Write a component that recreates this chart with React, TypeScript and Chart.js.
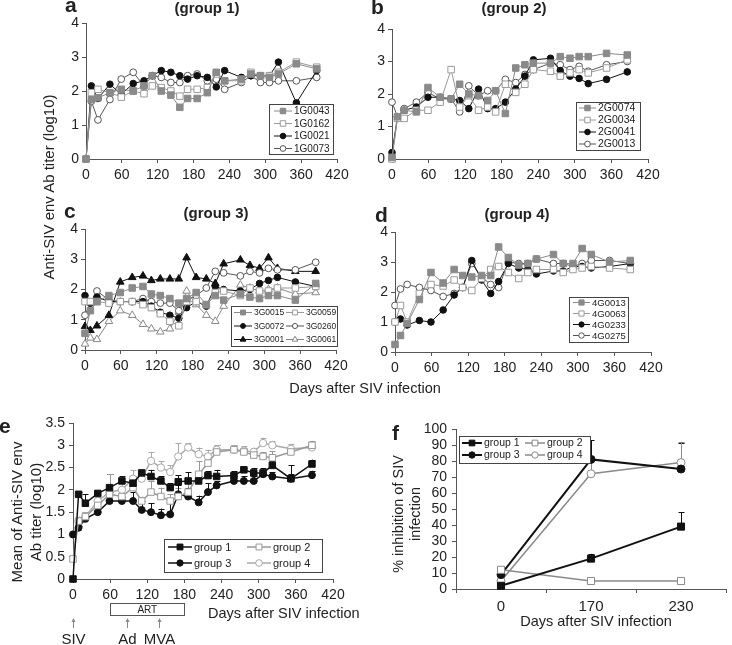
import React, { useEffect, useRef } from 'react';
import { Chart, registerables } from 'chart.js';
import { drawPoint } from 'chart.js/helpers';

Chart.register(...registerables);

const W = 732;
const H = 645;
const FONT = "'Liberation Sans', Arial, Helvetica, sans-serif";
Chart.defaults.font.family = FONT;
Chart.defaults.color = '#222';

// ---------------- data ----------------
const DAYS = [0, 9, 20, 40, 59, 79, 97, 111, 126, 142, 157, 170, 186, 203, 218, 232, 260, 276, 292, 307, 322, 352, 386];
const DAY_TICKS = [0, 60, 120, 180, 240, 300, 360, 420];
const TITER_TICKS = [0, 1, 2, 3, 4];
const MEAN_TICKS = [0, 0.5, 1, 1.5, 2, 2.5, 3, 3.5];
const PCT_TICKS = [0, 10, 20, 30, 40, 50, 60, 70, 80, 90, 100];

// group 1
const A_1G0043 = [0, 1.75, 1.8, 1.95, 2.05, 2.0, 2.15, 2.45, 2.0, 1.88, 1.52, 1.78, 1.78, 1.95, 2.55, 2.3, 2.35, 2.5, 2.45, 2.4, 2.5, 2.8, 2.65];
const A_1G0162 = [0, 1.95, 2.05, 1.95, 1.82, 2.0, 1.92, 2.15, 2.1, 2.0, 1.85, 2.05, 2.05, 2.1, 2.5, 2.3, 2.3, 2.55, 2.45, 2.45, 2.55, 2.85, 2.7];
const A_1G0021 = [0, 2.15, 1.78, 2.2, 1.9, 2.22, 2.3, 2.45, 2.6, 2.55, 2.45, 2.35, 2.45, 2.4, 2.12, 2.6, 2.4, 2.45, 2.45, 2.45, 2.85, 1.65, 2.6];
const A_1G0073 = [0, 1.7, 1.15, 1.75, 2.35, 2.55, 2.15, 2.45, 2.4, 2.25, 2.25, 2.45, 2.5, 2.3, 2.35, 2.05, 2.25, 2.45, 2.25, 2.25, 2.3, 2.3, 2.4];

// group 2
const B_2G0074 = [0.05, 1.3, 1.5, 1.45, 2.2, 1.9, 1.85, 2.3, 2.0, 1.95, 1.8, 2.1, 1.4, 2.8, 2.9, 2.95, 2.95, 3.15, 3.1, 3.15, 3.15, 3.25, 3.2];
const B_2G0034 = [0, 1.25, 1.25, 1.5, 1.5, 1.75, 2.75, 1.6, 1.95, 1.5, 1.6, 1.45, 2.3, 2.05, 2.3, 2.75, 2.7, 2.55, 2.65, 2.75, 2.65, 2.8, 3.05];
const B_2G0041 = [0.2, 1.3, 1.5, 1.6, 1.9, 1.9, 1.85, 1.8, 1.55, 2.15, 1.55, 1.55, 1.75, 2.15, 2.55, 3.05, 3.1, 2.72, 2.55, 2.48, 2.32, 2.45, 2.68];
const B_2G0013 = [1.75, 1.3, 1.55, 1.75, 2.05, 1.85, 1.85, 1.45, 2.25, 1.95, 2.1, 2.1, 2.45, 2.35, 2.6, 2.75, 2.95, 2.9, 2.75, 2.85, 2.7, 2.9, 3.0];

// group 3
const C_3G0015 = [0.55, 1.3, 1.6, 1.8, 1.9, 2.05, 2.1, 1.85, 1.8, 1.7, 1.55, 1.7, 1.9, 1.5, 1.8, 1.65, 1.85, 1.75, 1.7, 1.8, 1.8, 1.65, 2.2];
const C_3G0059 = [1.6, 1.6, 1.6, 1.55, 1.6, 1.6, 1.5, 1.4, 1.2, 0.95, 0.8, 1.6, 1.6, 1.5, 1.9, 1.95, 1.8, 2.05, 1.95, 1.95, 2.05, 2.05, 2.1];
const C_3G0072 = [1.8, 1.55, 1.75, 1.6, 1.6, 1.6, 1.6, 1.45, 1.25, 1.15, 1.05, 1.4, 1.6, 1.45, 2.1, 2.0, 1.95, 2.0, 2.2, 2.3, 2.4, 2.25, 2.1];
const C_3G0260 = [1.15, 1.55, 1.95, 1.65, 1.6, 1.6, 1.7, 1.6, 1.55, 1.55, 1.3, 1.65, 1.8, 2.05, 2.6, 2.55, 2.45, 2.6, 2.55, 2.7, 2.65, 2.65, 2.9];
const C_3G0001 = [0.78, 0.65, 0.8, 1.15, 2.25, 2.4, 2.45, 2.3, 2.35, 2.35, 2.35, 3.05, 2.4, 2.35, 2.2, 2.85, 2.98, 2.8, 2.7, 3.05, 2.7, 2.6, 2.6];
const C_3G0061 = [0.2, 0.4, 0.35, 0.95, 1.3, 1.15, 0.85, 0.7, 0.6, 0.7, 1.25, 1.95, 1.5, 1.15, 0.95, 1.45, 2.15, 2.05, 1.95, 2.0, 2.05, 1.85, 1.9];

// group 4
const D_4G0013 = [0.25, 0.55, 0.95, 1.75, 2.65, 2.3, 2.75, 2.55, 2.5, 2.55, 2.55, 3.5, 3.15, 2.9, 2.95, 3.1, 3.25, 2.95, 2.95, 3.45, 3.25, 3.0, 3.05];
const D_4G0063 = [1.0, 1.55, 1.0, 1.95, 2.25, 2.2, 2.4, 2.15, 2.05, 2.45, 2.75, 2.85, 2.65, 2.45, 2.65, 2.75, 2.75, 2.65, 2.75, 2.8, 2.85, 2.8, 2.75];
const D_4G0233 = [1.0, 1.1, 0.9, 1.05, 1.0, 1.4, 1.9, 2.15, 3.05, 2.4, 1.95, 2.35, 2.95, 2.8, 2.75, 2.6, 2.7, 2.7, 2.85, 2.85, 2.8, 2.85, 2.95];
const D_4G0275 = [1.55, 2.1, 2.25, 2.15, 2.05, 1.85, 1.95, 2.15, 2.95, 2.5, 2.25, 2.15, 3.0, 2.95, 2.95, 3.1, 2.95, 2.95, 2.85, 2.95, 3.05, 3.05, 2.95];

// means (panel e) and upper error
const E_GROUP1 = [0, 1.9, 1.7, 1.92, 2.05, 2.2, 2.15, 2.38, 2.3, 2.2, 2.05, 2.18, 2.2, 2.2, 2.32, 2.3, 2.32, 2.45, 2.38, 2.38, 2.55, 2.25, 2.58];
const E_GROUP1_ERR = [0, 0.05, 0.2, 0.05, 0.3, 0.1, 0.15, 0.05, 0.15, 0.1, 0.1, 0.15, 0.2, 0.1, 0.1, 0.15, 0.1, 0.05, 0.1, 0.1, 0.1, 0.3, 0.1];
const E_GROUP2 = [0.45, 1.3, 1.4, 1.65, 1.9, 1.85, 2.05, 1.75, 1.95, 1.85, 1.75, 1.85, 1.95, 2.35, 2.6, 2.85, 2.9, 2.85, 2.78, 2.75, 2.72, 2.85, 3.0];
const E_GROUP2_ERR = [0, 0.1, 0.1, 0.1, 0.45, 0.2, 0.15, 0.1, 0.25, 0.2, 0.15, 0.2, 0.25, 0.3, 0.2, 0.15, 0.1, 0.1, 0.1, 0.1, 0.15, 0.1, 0.1];
const E_GROUP3 = [1.0, 1.15, 1.35, 1.5, 1.75, 1.75, 1.75, 1.55, 1.5, 1.43, 1.45, 1.9, 1.85, 1.72, 1.95, 2.1, 2.2, 2.2, 2.2, 2.35, 2.3, 2.25, 2.33];
const E_GROUP3_ERR = [0, 0.05, 0.1, 0.1, 0.2, 0.1, 0.2, 0.2, 0.2, 0.15, 0.35, 0.2, 0.2, 0.15, 0.2, 0.1, 0.1, 0.1, 0.1, 0.1, 0.1, 0.1, 0.1];
const E_GROUP4 = [1.0, 1.3, 1.4, 1.75, 1.95, 2.0, 2.25, 2.25, 2.65, 2.5, 2.4, 2.75, 2.95, 2.8, 2.75, 2.9, 2.9, 2.88, 2.85, 3.05, 3.0, 2.92, 2.95];
const E_GROUP4_ERR = [0, 0.05, 0.1, 0.1, 0.15, 0.15, 0.2, 0.15, 0.2, 0.15, 0.15, 0.3, 0.1, 0.15, 0.15, 0.1, 0.1, 0.1, 0.1, 0.12, 0.1, 0.1, 0.05];
const ART_RANGE = [60, 180];
const EVENT_DAYS = [0, 88, 139];
const EVENT_LABELS = ['SIV', 'Ad', 'MVA'];

// panel f
const F_DAYS = ['0', '170', '230'];
const F_GROUP1 = [2, 19, 39];
const F_GROUP1_ERR = [0, 3, 9];
const F_GROUP2 = [12, 5, 5];
const F_GROUP2_ERR = [0, 0, 0];
const F_GROUP3 = [9, 81, 75];
const F_GROUP3_ERR = [0, 12, 16];
const F_GROUP4 = [5, 72, 79];
const F_GROUP4_ERR = [0, 11, 13];

// ---------------- styles ----------------
type Sty = { ps: string; r: number; bg: string; bc: string; line: string };
const GRAY_SQ: Sty = { ps: 'rect', r: 4.6, bg: '#8a8a8a', bc: '#8a8a8a', line: '#8a8a8a' };
const OPEN_SQ: Sty = { ps: 'rect', r: 4.6, bg: '#ffffff', bc: '#9a9a9a', line: '#9a9a9a' };
const BLACK_CI: Sty = { ps: 'circle', r: 3.3, bg: '#111111', bc: '#111111', line: '#111111' };
const OPEN_CI: Sty = { ps: 'circle', r: 3.4, bg: '#ffffff', bc: '#555555', line: '#555555' };
const BLACK_TR: Sty = { ps: 'triangle', r: 4.4, bg: '#111111', bc: '#111111', line: '#111111' };
const OPEN_TR: Sty = { ps: 'triangle', r: 4.4, bg: '#ffffff', bc: '#888888', line: '#888888' };

const YW = 40;
const XH = 30;

function ds(label: string, xs: any[] | null, ys: number[], st: Sty, lw = 1, extra: any = {}) {
  return {
    label,
    data: xs ? xs.map((x, i) => ({ x, y: ys[i] })) : ys,
    borderColor: st.line,
    backgroundColor: st.bg,
    borderWidth: lw,
    pointStyle: st.ps,
    pointRadius: st.r,
    pointBackgroundColor: st.bg,
    pointBorderColor: st.bc,
    pointBorderWidth: 1,
    tension: 0,
    clip: false,
    ...extra,
  };
}

const boxLegend = {
  id: 'boxLegend',
  afterDraw(chart: any, _a: any, o: any) {
    if (!o || !o.box) return;
    const ctx = chart.ctx;
    const [x1, y1, x2, y2] = o.box;
    ctx.save();
    ctx.fillStyle = '#fff';
    ctx.fillRect(x1, y1, x2 - x1, y2 - y1);
    ctx.strokeStyle = '#444';
    ctx.lineWidth = 1;
    ctx.strokeRect(x1 + 0.5, y1 + 0.5, x2 - x1, y2 - y1);
    chart.data.datasets.forEach((d: any, i: number) => {
      const r = Math.floor(i / o.cols);
      const c = i % o.cols;
      const x0 = x1 + o.padL + c * o.colW;
      const cy = y1 + o.padT + r * o.rowH;
      ctx.strokeStyle = d.borderColor;
      ctx.lineWidth = d.borderWidth;
      ctx.beginPath();
      ctx.moveTo(x0, cy);
      ctx.lineTo(x0 + o.lineLen, cy);
      ctx.stroke();
      ctx.fillStyle = d.pointBackgroundColor;
      ctx.strokeStyle = d.pointBorderColor;
      ctx.lineWidth = 1;
      drawPoint(ctx, { pointStyle: d.pointStyle, radius: d.pointRadius * o.ms, borderWidth: 1, rotation: 0 } as any, x0 + o.lineLen / 2, cy);
      ctx.fillStyle = '#222';
      ctx.font = `${o.font}px ${FONT}`;
      ctx.textBaseline = 'middle';
      ctx.textAlign = 'left';
      ctx.fillText(d.label, x0 + o.lineLen + 2, cy + 0.5);
    });
    ctx.restore();
  },
};

const errorBars = {
  id: 'errorBars',
  beforeDatasetsDraw(chart: any) {
    const ctx = chart.ctx;
    const ys = chart.scales.y;
    chart.data.datasets.forEach((d: any, i: number) => {
      if (!d.errUp) return;
      const meta = chart.getDatasetMeta(i);
      ctx.save();
      ctx.strokeStyle = d.borderColor;
      ctx.lineWidth = 1;
      meta.data.forEach((pt: any, j: number) => {
        const e = d.errUp[j];
        if (!e) return;
        const raw = d.data[j];
        const v = typeof raw === 'number' ? raw : raw.y;
        const yTop = ys.getPixelForValue(v + e);
        const x = Math.round(pt.x) + 0.5;
        ctx.beginPath();
        ctx.moveTo(x, pt.y);
        ctx.lineTo(x, yTop);
        ctx.moveTo(x - 3, Math.round(yTop) + 0.5);
        ctx.lineTo(x + 3, Math.round(yTop) + 0.5);
        ctx.stroke();
      });
      ctx.restore();
    });
  },
};

const eventsPlugin = {
  id: 'events',
  afterDraw(chart: any) {
    const xs = chart.scales.x;
    const ctx = chart.ctx;
    const a = xs.getPixelForValue(ART_RANGE[0]);
    const b = xs.getPixelForValue(ART_RANGE[1]);
    ctx.save();
    ctx.strokeStyle = '#555';
    ctx.lineWidth = 1;
    ctx.strokeRect(Math.round(a) + 0.5, 603.5, Math.round(b - a), 12);
    ctx.fillStyle = '#222';
    ctx.font = `10px ${FONT}`;
    ctx.textAlign = 'center';
    ctx.textBaseline = 'middle';
    ctx.fillText('ART', (a + b) / 2, 610);
    EVENT_DAYS.forEach((d, i) => {
      const x = Math.round(xs.getPixelForValue(d)) + 0.5;
      ctx.strokeStyle = '#888';
      ctx.beginPath();
      ctx.moveTo(x, 628);
      ctx.lineTo(x, 621);
      ctx.stroke();
      ctx.fillStyle = '#888';
      ctx.beginPath();
      ctx.moveTo(x, 618);
      ctx.lineTo(x - 2, 622);
      ctx.lineTo(x + 2, 622);
      ctx.closePath();
      ctx.fill();
      ctx.fillStyle = '#222';
      ctx.font = `15px ${FONT}`;
      ctx.textBaseline = 'alphabetic';
      ctx.fillText(EVENT_LABELS[i], x, 644);
    });
    ctx.restore();
  },
};

function axisBase(size: number, pad = 3) {
  return {
    grid: { display: true, drawOnChartArea: false, drawTicks: true, tickLength: 4, color: '#555', lineWidth: 1 },
    border: { display: true, color: '#555', width: 1 },
    ticks: { color: '#222', font: { family: FONT, size }, padding: pad, callback: (v: any) => String(v), autoSkip: false, maxRotation: 0 },
  };
}

function linScale(ticksArr: number[], min: number, max: number, axis: 'x' | 'y', size: number, pad = 3) {
  const base: any = axisBase(size, pad);
  return {
    type: 'linear',
    min,
    max,
    ...base,
    afterBuildTicks: (s: any) => {
      s.ticks = ticksArr.map((v) => ({ value: v }));
    },
    afterFit: (s: any) => {
      if (axis === 'x') s.height = XH;
      else s.width = YW;
      s.paddingLeft = 0;
      s.paddingRight = 0;
      s.paddingTop = 0;
      s.paddingBottom = 0;
    },
  };
}

function config(plot: number[], datasets: any[], scales: any, legend: any, plugins: any[] = []) {
  const [l, t, r, b] = plot;
  return {
    type: 'line',
    data: { labels: undefined as any, datasets },
    options: {
      responsive: false,
      maintainAspectRatio: false,
      devicePixelRatio: 1,
      animation: false,
      events: [],
      layout: { padding: { left: l - YW, top: t, right: W - r, bottom: H - b - XH } },
      scales,
      plugins: {
        legend: { display: false },
        tooltip: { enabled: false },
        boxLegend: legend,
      },
    },
    plugins: [errorBars, boxLegend, ...plugins],
  };
}

function titerScales() {
  return {
    x: linScale(DAY_TICKS, 0, 420, 'x', 14, 4),
    y: linScale(TITER_TICKS, 0, 4, 'y', 14, 3),
  };
}

const BUILDERS: (() => any)[] = [
  () =>
    config(
      [86, 23, 337, 159],
      [
        ds('1G0043', DAYS, A_1G0043, GRAY_SQ),
        ds('1G0162', DAYS, A_1G0162, OPEN_SQ),
        ds('1G0021', DAYS, A_1G0021, BLACK_CI),
        ds('1G0073', DAYS, A_1G0073, OPEN_CI),
      ],
      titerScales(),
      { box: [269, 104, 333, 154], cols: 1, colW: 0, rowH: 12.5, padL: 5, padT: 7, lineLen: 18, font: 10, ms: 0.85 }
    ),
  () =>
    config(
      [392, 29, 648, 159],
      [
        ds('2G0074', DAYS, B_2G0074, GRAY_SQ),
        ds('2G0034', DAYS, B_2G0034, OPEN_SQ),
        ds('2G0041', DAYS, B_2G0041, BLACK_CI),
        ds('2G0013', DAYS, B_2G0013, OPEN_CI),
      ],
      titerScales(),
      { box: [576, 102, 640, 150], cols: 1, colW: 0, rowH: 12, padL: 3, padT: 6, lineLen: 17, font: 10.5, ms: 0.85 }
    ),
  () =>
    config(
      [85, 229, 336, 350],
      [
        ds('3G0015', DAYS, C_3G0015, GRAY_SQ),
        ds('3G0059', DAYS, C_3G0059, OPEN_SQ),
        ds('3G0072', DAYS, C_3G0072, BLACK_CI),
        ds('3G0260', DAYS, C_3G0260, OPEN_CI),
        ds('3G0001', DAYS, C_3G0001, BLACK_TR),
        ds('3G0061', DAYS, C_3G0061, OPEN_TR),
      ],
      titerScales(),
      { box: [231, 306, 337, 346], cols: 2, colW: 52, rowH: 13.5, padL: 3, padT: 6.5, lineLen: 18, font: 8.5, ms: 0.75 }
    ),
  () =>
    config(
      [395, 232, 651, 352],
      [
        ds('4G0013', DAYS, D_4G0013, GRAY_SQ),
        ds('4G0063', DAYS, D_4G0063, OPEN_SQ),
        ds('4G0233', DAYS, D_4G0233, BLACK_CI),
        ds('4G0275', DAYS, D_4G0275, OPEN_CI),
      ],
      titerScales(),
      { box: [569, 297, 628, 342], cols: 1, colW: 0, rowH: 11, padL: 4, padT: 5.5, lineLen: 17, font: 9.5, ms: 0.8 }
    ),
  () =>
    config(
      [73, 423, 333, 579],
      [
        ds('group 1', DAYS, E_GROUP1, { ps: 'rect', r: 4.6, bg: '#111', bc: '#111', line: '#111' }, 1.5, { errUp: E_GROUP1_ERR }),
        ds('group 2', DAYS, E_GROUP2, { ps: 'rect', r: 4.6, bg: '#fff', bc: '#999', line: '#999' }, 1.5, { errUp: E_GROUP2_ERR }),
        ds('group 3', DAYS, E_GROUP3, { ps: 'circle', r: 3.5, bg: '#111', bc: '#111', line: '#111' }, 1.5, { errUp: E_GROUP3_ERR }),
        ds('group 4', DAYS, E_GROUP4, { ps: 'circle', r: 3.7, bg: '#fff', bc: '#aaa', line: '#aaa' }, 1.5, { errUp: E_GROUP4_ERR }),
      ],
      {
        x: linScale(DAY_TICKS, 0, 420, 'x', 14, 4),
        y: linScale(MEAN_TICKS, 0, 3.5, 'y', 14, 4),
      },
      { box: [164, 539, 322, 572], cols: 2, colW: 79, rowH: 16, padL: 4, padT: 8, lineLen: 24, font: 11, ms: 0.9 },
      [eventsPlugin]
    ),
  () => {
    const base: any = axisBase(15, 5);
    const c: any = config(
      [456, 429, 731, 589],
      [
        ds('group 1', null, F_GROUP1, { ps: 'rect', r: 5, bg: '#111', bc: '#111', line: '#111' }, 2, { errUp: F_GROUP1_ERR }),
        ds('group 2', null, F_GROUP2, { ps: 'rect', r: 5, bg: '#fff', bc: '#8a8a8a', line: '#8a8a8a' }, 1.5, { errUp: F_GROUP2_ERR }),
        ds('group 3', null, F_GROUP3, { ps: 'circle', r: 4, bg: '#111', bc: '#111', line: '#111' }, 2, { errUp: F_GROUP3_ERR }),
        ds('group 4', null, F_GROUP4, { ps: 'circle', r: 4, bg: '#fff', bc: '#8a8a8a', line: '#8a8a8a' }, 1.5, { errUp: F_GROUP4_ERR }),
      ],
      {
        x: {
          type: 'category',
          offset: true,
          border: base.border,
          grid: { display: true, drawOnChartArea: false, drawTicks: true, tickLength: 4, color: '#555', lineWidth: 1, offset: true },
          ticks: {
            color: '#222',
            font: { family: FONT, size: 15 },
            padding: 5,
            autoSkip: false,
            maxRotation: 0,
            callback: (_v: any, i: number) => F_DAYS[i],
          },
          afterFit: (s: any) => {
            s.height = XH;
            s.paddingLeft = 0;
            s.paddingRight = 0;
          },
        },
        y: linScale(PCT_TICKS, 0, 100, 'y', 14, 5),
      },
      { box: [459, 436, 590, 463], cols: 2, colW: 63, rowH: 12, padL: 3, padT: 7, lineLen: 20, font: 10.5, ms: 0.8 }
    );
    c.data.labels = F_DAYS;
    return c;
  },
];

function ChartCanvas({ build }: { build: () => any }) {
  const ref = useRef<HTMLCanvasElement>(null);
  useEffect(() => {
    const chart = new Chart(ref.current as HTMLCanvasElement, build());
    return () => chart.destroy();
  }, [build]);
  return (
    <canvas
      ref={ref}
      width={W}
      height={H}
      style={{ position: 'absolute', left: 0, top: 0, width: W, height: H }}
    />
  );
}

function Txt({ x, y, size, bold, anchor, children }: any) {
  return (
    <div
      style={{
        position: 'absolute',
        left: x,
        top: y - 0.846 * size,
        fontSize: size,
        lineHeight: `${size}px`,
        fontWeight: bold ? 700 : 400,
        fontFamily: FONT,
        whiteSpace: 'nowrap',
        color: '#222',
        transform: anchor === 'middle' ? 'translateX(-50%)' : undefined,
      }}
    >
      {children}
    </div>
  );
}

function RotTxt({ cx, cy, size, children }: any) {
  return (
    <div
      style={{
        position: 'absolute',
        left: cx,
        top: cy,
        fontSize: size,
        lineHeight: `${size}px`,
        fontFamily: FONT,
        whiteSpace: 'nowrap',
        color: '#222',
        transform: 'translate(-50%, -50%) rotate(-90deg)',
      }}
    >
      {children}
    </div>
  );
}

export default function App() {
  return (
    <div style={{ position: 'fixed', left: 0, top: 0, width: W, height: H, background: '#fff', overflow: 'hidden' }}>
      {BUILDERS.map((b, i) => (
        <ChartCanvas key={i} build={b} />
      ))}
      <Txt x={65} y={12} size={21} bold>a</Txt>
      <Txt x={207} y={13} size={15} bold anchor="middle">(group 1)</Txt>
      <Txt x={371} y={14} size={21} bold>b</Txt>
      <Txt x={514} y={13} size={15} bold anchor="middle">(group 2)</Txt>
      <Txt x={64} y={218} size={21} bold>c</Txt>
      <Txt x={216} y={218} size={15} bold anchor="middle">(group 3)</Txt>
      <Txt x={375} y={222} size={21} bold>d</Txt>
      <Txt x={517} y={219} size={15} bold anchor="middle">(group 4)</Txt>
      <Txt x={365} y={393} size={14.5} anchor="middle">Days after SIV infection</Txt>
      <Txt x={-1} y={433} size={21} bold>e</Txt>
      <Txt x={208} y={618} size={14.5}>Days after SIV infection</Txt>
      <Txt x={392} y={440} size={21} bold>f</Txt>
      <Txt x={596} y={626} size={14.5} anchor="middle">Days after SIV infection</Txt>
      <RotTxt cx={48} cy={187} size={15}>Anti-SIV env Ab titer (log10)</RotTxt>
      <RotTxt cx={16} cy={512} size={15}>Mean of Anti-SIV env</RotTxt>
      <RotTxt cx={35} cy={512} size={15}>Ab titer (log10)</RotTxt>
      <RotTxt cx={398} cy={514} size={14.5}>% inhibition of SIV</RotTxt>
      <RotTxt cx={415} cy={514} size={14.5}>infection</RotTxt>
    </div>
  );
}
